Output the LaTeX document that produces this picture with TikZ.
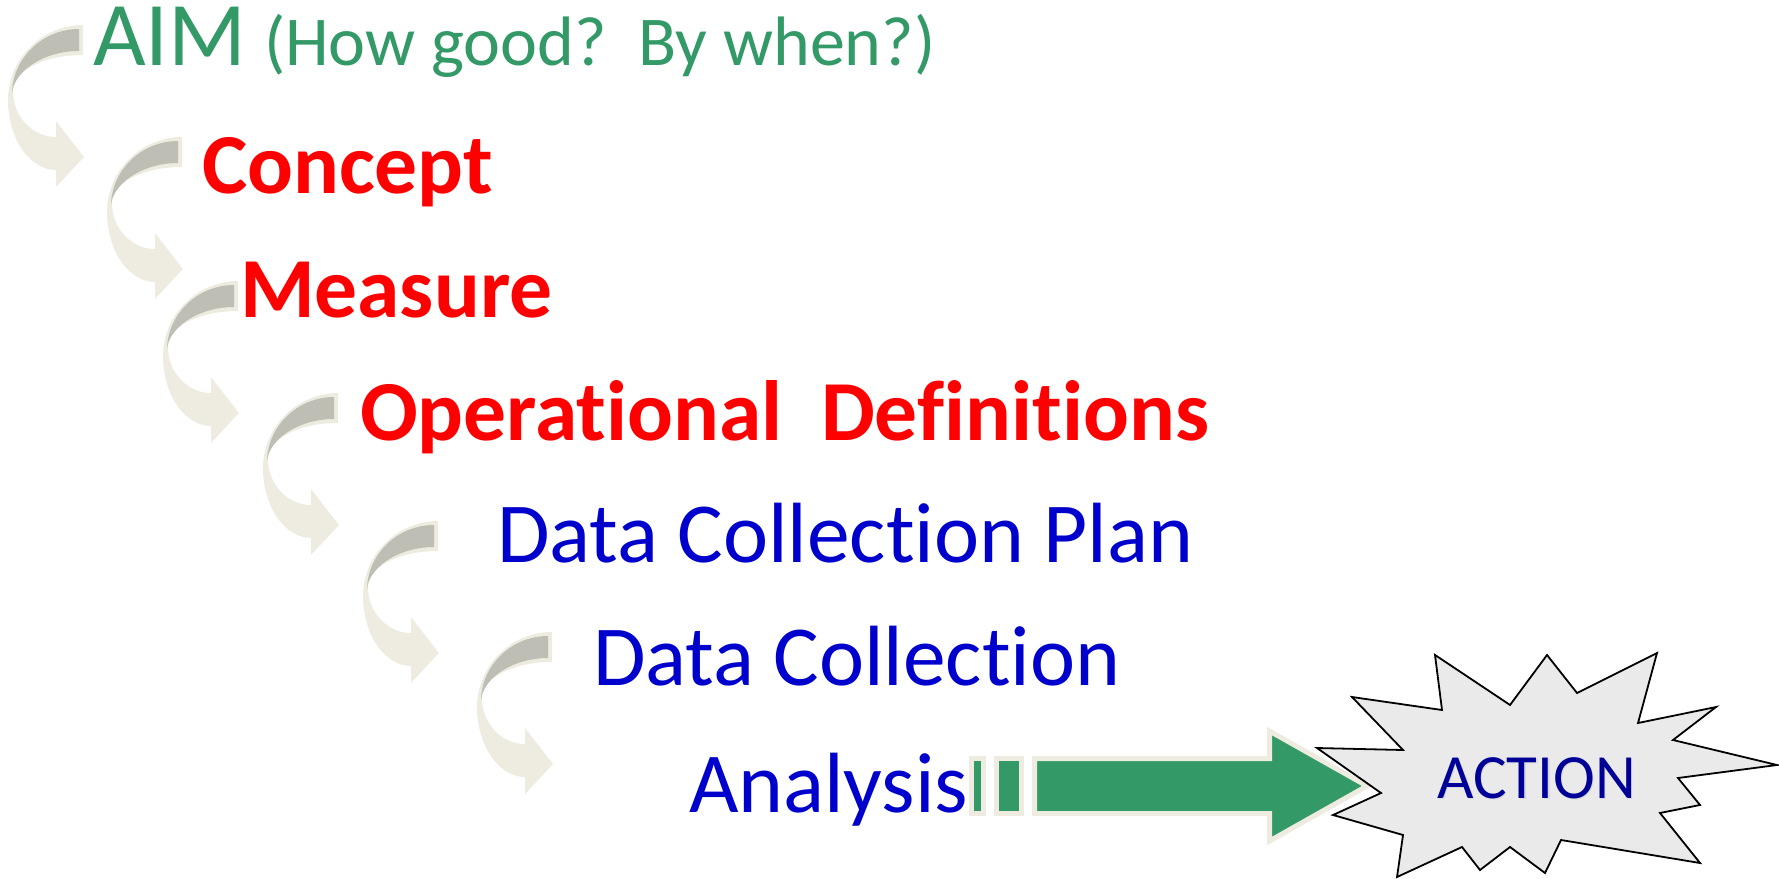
\documentclass[tikz,border=0pt]{standalone}
\usepackage{fontspec}
\setmainfont{Carlito}[RawFeature={-liga;-clig;-dlig}]
\definecolor{aimgreen}{RGB}{51,153,102}
\definecolor{stepred}{RGB}{255,0,0}
\definecolor{stepblue}{RGB}{0,0,204}
\definecolor{actblue}{RGB}{0,0,153}
\definecolor{tanlight}{RGB}{238,236,225}
\definecolor{tandark}{RGB}{190,190,180}
\definecolor{burstgray}{RGB}{234,234,234}
\tikzset{
  lbl/.style={anchor=base west, inner sep=0pt, outer sep=0pt},
  bigreg/.style={lbl, font=\fontsize{85.5}{86}\selectfont},
  bigbold/.style={lbl, font=\fontsize{85.5}{86}\selectfont\bfseries, text=stepred},
  % curved step arrow, origin at the top-right corner of its tab
  curvarrow/.pic={
    \fill[tanlight] (0,0) .. controls (-41,0) and (-75,34) .. (-75,75)
      .. controls (-75,114) and (-53,145) .. (-27,145)
      -- (-27,162) -- (1,132) -- (-27,96) -- (-27,112)
      .. controls (-51,112) and (-70,91) .. (-70,66)
      .. controls (-70,46) and (-39,30) .. (0,30) -- cycle;
    \fill[tandark] (-4,4) .. controls (-41,4) and (-71,34) .. (-71,69)
      .. controls (-70,47) and (-40,26) .. (-4,26) -- cycle;
  }
}
\begin{document}
\begin{tikzpicture}[x=1pt,y=-1pt]
\useasboundingbox (0,0) rectangle (1779,878);

% curved arrows down the staircase
\pic at (83,25) {curvarrow};
\pic at (182,137) {curvarrow};
\pic at (238,281) {curvarrow};
\pic at (338,393) {curvarrow};
\pic at (438,521) {curvarrow};
\pic at (552,632) {curvarrow};

% step labels
\node[lbl, font=\fontsize{91}{91}\selectfont, text=aimgreen] (aim) at (93,65) {AIM};
\node[lbl, font=\fontsize{70}{70}\selectfont, text=aimgreen] (aimq) at (264,65) {(How good?\ \ By when?)};
\node[bigbold] (concept) at (202,193) {Concept};
\node[bigbold] (measure) at (240,317) {Measure};
\node[bigbold] (opdef) at (360,440) {Operational\ \ Definitions};
\node[bigreg, text=stepblue] (dcplan) at (497,562) {Data Collection Plan};
\node[bigreg, text=stepblue] (dcoll) at (593,685) {Data Collection};
\node[bigreg, text=stepblue] (analysis) at (689,812) {Analysis};

% striped block arrow towards the burst
\begin{scope}[fill=aimgreen, draw=tanlight, line width=5, line join=miter]
  \filldraw (971.5,758.5) rectangle (983.5,813.5);
  \filldraw (996,758.5) rectangle (1021.5,813.5);
  \filldraw (1034.5,758.5) -- (1269.5,758.5) -- (1269.5,731) -- (1367,786)
    -- (1269.5,841) -- (1269.5,813.5) -- (1034.5,813.5) -- cycle;
\end{scope}

% burst
\filldraw[fill=burstgray, draw=black, line width=1.8, line join=miter]
  (1435,655) -- (1442,710) -- (1352,697) -- (1403,750) -- (1317,748)
  -- (1381,793) -- (1333,815) -- (1403,835) -- (1397,877) -- (1462,847)
  -- (1480,870) -- (1510,847) -- (1545,873) -- (1561,840) -- (1700,863)
  -- (1660,813) -- (1700,805) -- (1678,778) -- (1777,765) -- (1673,740)
  -- (1716,707) -- (1638,723) -- (1657,653) -- (1577,693) -- (1547,655)
  -- (1510,705) -- cycle;
\node[lbl, font=\fontsize{63}{63}\selectfont, text=black!15] at (1438.5,799.5) {ACTION};
\node[lbl, font=\fontsize{63}{63}\selectfont, text=actblue] (action) at (1437,798) {ACTION};
\end{tikzpicture}
\end{document}
